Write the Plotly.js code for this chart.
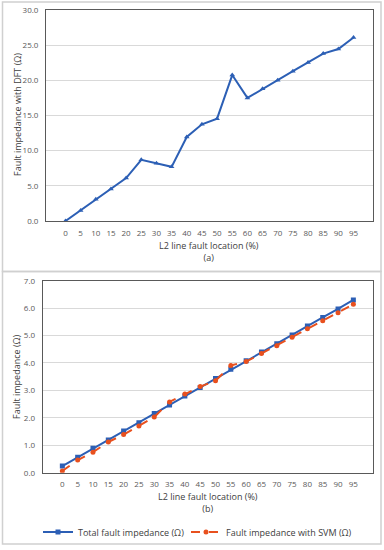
<!DOCTYPE html>
<html>
<head>
<meta charset="utf-8">
<script src="https://cdn.plot.ly/plotly-3.0.1.min.js"></script>
<style>html,body{margin:0;padding:0;background:#fff;}#chart{width:384px;height:550px;}</style>
</head>
<body>
<div id="chart"></div>
<script>
var locations = ['0','5','10','15','20','25','30','35','40','45','50','55','60','65','70','75','80','85','90','95'];
var dftImpedance = [0.0,1.5,3.1,4.55,6.1,8.7,8.2,7.7,11.95,13.75,14.55,20.75,17.5,18.8,20.0,21.3,22.55,23.8,24.45,26.1];
var totalImpedance = [0.24,0.56,0.89,1.19,1.52,1.82,2.16,2.47,2.80,3.11,3.43,3.77,4.08,4.40,4.70,5.02,5.35,5.66,5.97,6.30];
var svmImpedance = [0.06,0.46,0.75,1.12,1.39,1.70,2.03,2.58,2.87,3.14,3.35,3.91,4.05,4.35,4.63,4.94,5.25,5.54,5.83,6.14];

var W = 384, H = 550;
function px(x){return x/W;}
function py(y){return (H-y)/H;}

var blue = '#2c5fb5', red = '#e8501e';
var tickFont = {family:'Open Sans, sans-serif', size:8, color:'#595959'};
var titleFont = {family:'Open Sans, sans-serif', size:9, color:'#404040'};

var traces = [
  {x:locations, y:dftImpedance, xaxis:'x', yaxis:'y', type:'scatter', mode:'lines+markers',
   line:{color:blue, width:2}, marker:{symbol:'triangle-up', size:5, color:blue}, showlegend:false},
  {x:locations, y:totalImpedance, xaxis:'x2', yaxis:'y2', type:'scatter', mode:'lines+markers',
   name:'Total fault impedance (Ω)', legend:'legend',
   line:{color:blue, width:2}, marker:{symbol:'square', size:5, color:blue}},
  {x:locations, y:svmImpedance, xaxis:'x2', yaxis:'y2', type:'scatter', mode:'lines+markers',
   name:'Fault impedance with SVM (Ω)', legend:'legend2',
   line:{color:red, width:2, dash:'dash'}, marker:{symbol:'circle', size:5, color:red}}
];

var axCommon = {showline:true, mirror:true, linecolor:'#595959', linewidth:1, ticks:'', tickfont:tickFont, zeroline:false, fixedrange:true};

var layout = {
  width:W, height:H, margin:{l:0,r:0,t:0,b:0},
  paper_bgcolor:'#fff', plot_bgcolor:'#fff',
  xaxis: Object.assign({}, axCommon, {domain:[px(46), px(373)], anchor:'y', type:'category', showgrid:false, ticklabelstandoff:4}),
  yaxis: Object.assign({}, axCommon, {domain:[py(221), py(10)], anchor:'x', range:[0,30], dtick:5, tickformat:'.1f', showgrid:true, gridcolor:'#d9d9d9', gridwidth:1, ticklabelstandoff:5}),
  xaxis2: Object.assign({}, axCommon, {domain:[px(42.7), px(373)], anchor:'y2', type:'category', showgrid:false, ticklabelstandoff:4}),
  yaxis2: Object.assign({}, axCommon, {domain:[py(472.7), py(280.7)], anchor:'x2', range:[0,7], dtick:1, tickformat:'.1f', showgrid:true, gridcolor:'#d9d9d9', gridwidth:1, ticklabelstandoff:5}),
  showlegend:true,
  legend:{orientation:'h', x:px(38), xanchor:'left', y:py(532), yanchor:'middle', font:titleFont, bgcolor:'rgba(0,0,0,0)', itemwidth:30},
  legend2:{orientation:'h', x:px(186), xanchor:'left', y:py(532), yanchor:'middle', font:titleFont, bgcolor:'rgba(0,0,0,0)', itemwidth:30},
  annotations:[
    {text:'L2 line fault location (%)<br>(a)', xref:'paper', yref:'paper', x:px(209), y:py(251), xanchor:'center', yanchor:'middle', showarrow:false, font:titleFont},
    {text:'L2 line fault location (%)<br>(b)', xref:'paper', yref:'paper', x:px(208), y:py(502), xanchor:'center', yanchor:'middle', showarrow:false, font:titleFont},
    {text:'Fault impedance with DFT (Ω)', xref:'paper', yref:'paper', x:px(17), y:py(115), xanchor:'center', yanchor:'middle', textangle:-90, showarrow:false, font:titleFont},
    {text:'Fault impedance (Ω)', xref:'paper', yref:'paper', x:px(16), y:py(377), xanchor:'center', yanchor:'middle', textangle:-90, showarrow:false, font:titleFont}
  ],
  shapes:[
    {type:'rect', xref:'paper', yref:'paper', x0:px(2.5), x1:px(381), y0:py(271.5), y1:py(2), line:{color:'#d0d0d0', width:1.5}},
    {type:'rect', xref:'paper', yref:'paper', x0:px(2.5), x1:px(381), y0:py(544), y1:py(271.5), line:{color:'#d0d0d0', width:1.5}}
  ]
};

Plotly.newPlot('chart', traces, layout, {displayModeBar:false, staticPlot:true});
</script>
</body>
</html>
